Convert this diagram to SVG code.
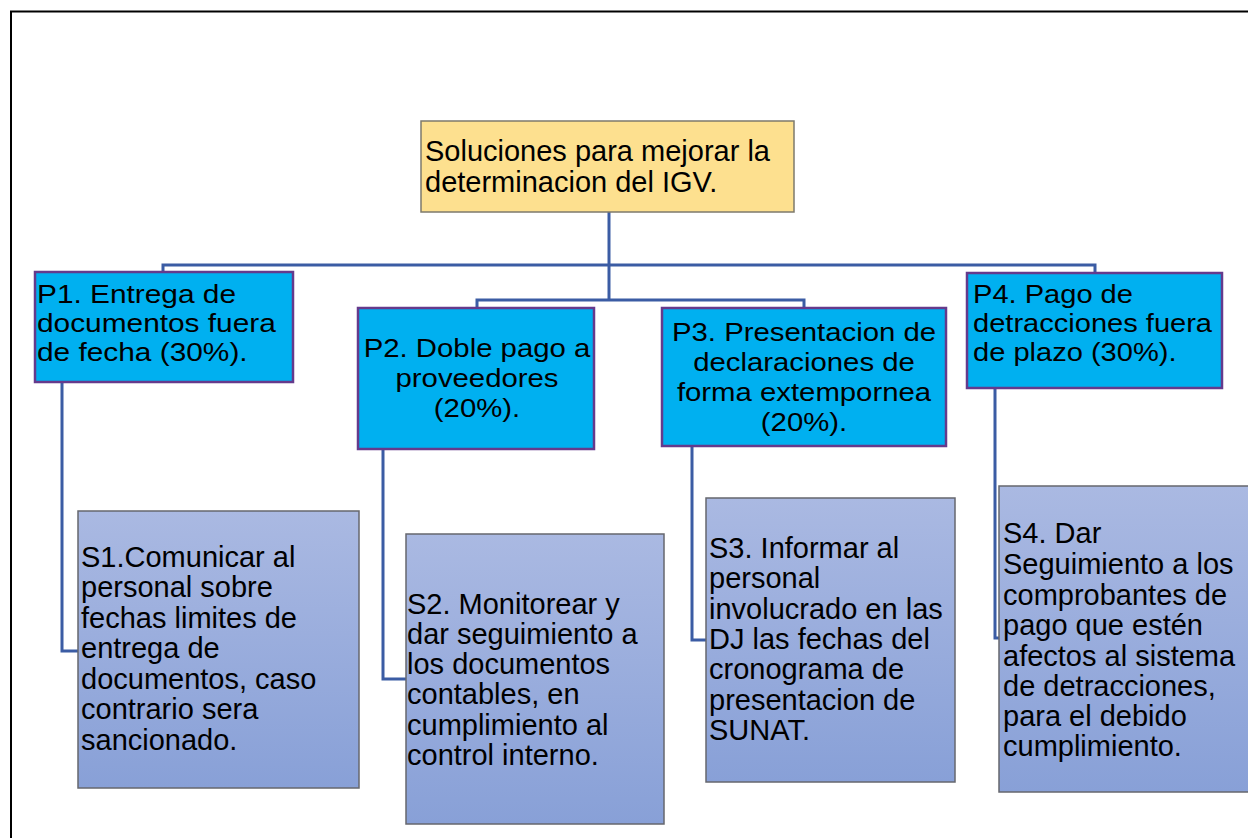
<svg xmlns="http://www.w3.org/2000/svg" width="1248" height="838" viewBox="0 0 1248 838">
<defs>
<linearGradient id="sg" x1="0" y1="0" x2="0" y2="1">
<stop offset="0" stop-color="#AAB9E2"/>
<stop offset="1" stop-color="#88A0D7"/>
</linearGradient>
<style>
.txt{font-family:"Liberation Sans",Arial,sans-serif;fill:#000}
.top{font-size:29px}
.p{font-size:25.5px}
.s{font-size:29px}
.pbox{fill:#00B0F0;stroke:#653A8C;stroke-width:2.5}
.sbox{fill:url(#sg);stroke:#66676E;stroke-width:1.5}
.tbox{fill:#FDE08F;stroke:#7D7A6C;stroke-width:1.5}
.con{fill:none;stroke:#3B5CA4;stroke-width:3}
</style>
</defs>
<rect width="1248" height="838" fill="#fff"/>
<path d="M11 838 V11.5 H1248" fill="none" stroke="#000" stroke-width="2"/>
<g id="connectors">
<path class="con" d="M609 212 V300"/>
<path class="con" d="M163 272 V265 H1095 V273"/>
<path class="con" d="M477 308 V300 H804 V308"/>
<path class="con" d="M62 382 V651 H78"/>
<path class="con" d="M383 449 V679 H406"/>
<path class="con" d="M692 446 V640 H706"/>
<path class="con" d="M995 388 V638 H999"/>
</g>
<g id="root">
<rect class="tbox" x="421" y="121" width="373" height="91"/>
<text class="txt top" x="425" y="161">Soluciones para mejorar la</text>
<text class="txt top" x="425" y="192">determinacion del IGV.</text>
</g>
<g id="p1">
<rect class="pbox" x="35" y="272" width="258" height="110"/>
<g transform="translate(37,0) scale(1.17,1)">
<text class="txt p" x="0" y="303">P1. Entrega de</text>
<text class="txt p" x="0" y="332">documentos fuera</text>
<text class="txt p" x="0" y="361">de fecha (30%).</text>
</g>
</g>
<g id="p2">
<rect class="pbox" x="358" y="308" width="236" height="141"/>
<g transform="translate(477,0) scale(1.15,1)" text-anchor="middle">
<text class="txt p" x="0" y="357">P2. Doble pago a</text>
<text class="txt p" x="0" y="387">proveedores</text>
<text class="txt p" x="0" y="417">(20%).</text>
</g>
</g>
<g id="p3">
<rect class="pbox" x="662" y="308" width="284" height="138"/>
<g transform="translate(804,0) scale(1.15,1)" text-anchor="middle">
<text class="txt p" x="0" y="341">P3. Presentacion de</text>
<text class="txt p" x="0" y="371">declaraciones de</text>
<text class="txt p" x="0" y="401">forma extempornea</text>
<text class="txt p" x="0" y="431">(20%).</text>
</g>
</g>
<g id="p4">
<rect class="pbox" x="967" y="273" width="255" height="115"/>
<g transform="translate(973,0) scale(1.14,1)">
<text class="txt p" x="0" y="303">P4. Pago de</text>
<text class="txt p" x="0" y="332">detracciones fuera</text>
<text class="txt p" x="0" y="361">de plazo (30%).</text>
</g>
</g>
<g id="s1">
<rect class="sbox" x="78" y="511" width="281" height="277"/>
<text class="txt s" x="81" y="567">S1.Comunicar al</text>
<text class="txt s" x="81" y="597">personal sobre</text>
<text class="txt s" x="81" y="628">fechas limites de</text>
<text class="txt s" x="81" y="658">entrega de</text>
<text class="txt s" x="81" y="689">documentos, caso</text>
<text class="txt s" x="81" y="719">contrario sera</text>
<text class="txt s" x="81" y="750">sancionado.</text>
</g>
<g id="s2">
<rect class="sbox" x="406" y="534" width="258" height="290"/>
<text class="txt s" x="407" y="614">S2. Monitorear y</text>
<text class="txt s" x="407" y="644">dar seguimiento a</text>
<text class="txt s" x="407" y="674">los documentos</text>
<text class="txt s" x="407" y="704">contables, en</text>
<text class="txt s" x="407" y="735">cumplimiento al</text>
<text class="txt s" x="407" y="765">control interno.</text>
</g>
<g id="s3">
<rect class="sbox" x="706" y="498" width="249" height="284"/>
<text class="txt s" x="709" y="558">S3. Informar al</text>
<text class="txt s" x="709" y="588">personal</text>
<text class="txt s" x="709" y="619">involucrado en las</text>
<text class="txt s" x="709" y="649">DJ las fechas del</text>
<text class="txt s" x="709" y="679">cronograma de</text>
<text class="txt s" x="709" y="710">presentacion de</text>
<text class="txt s" x="709" y="740">SUNAT.</text>
</g>
<g id="s4">
<rect class="sbox" x="999" y="486" width="252" height="306"/>
<text class="txt s" x="1003" y="543">S4. Dar</text>
<text class="txt s" x="1003" y="574">Seguimiento a los</text>
<text class="txt s" x="1003" y="605">comprobantes de</text>
<text class="txt s" x="1003" y="635">pago que estén</text>
<text class="txt s" x="1003" y="666">afectos al sistema</text>
<text class="txt s" x="1003" y="696">de detracciones,</text>
<text class="txt s" x="1003" y="726">para el debido</text>
<text class="txt s" x="1003" y="756">cumplimiento.</text>
</g>
</svg>
